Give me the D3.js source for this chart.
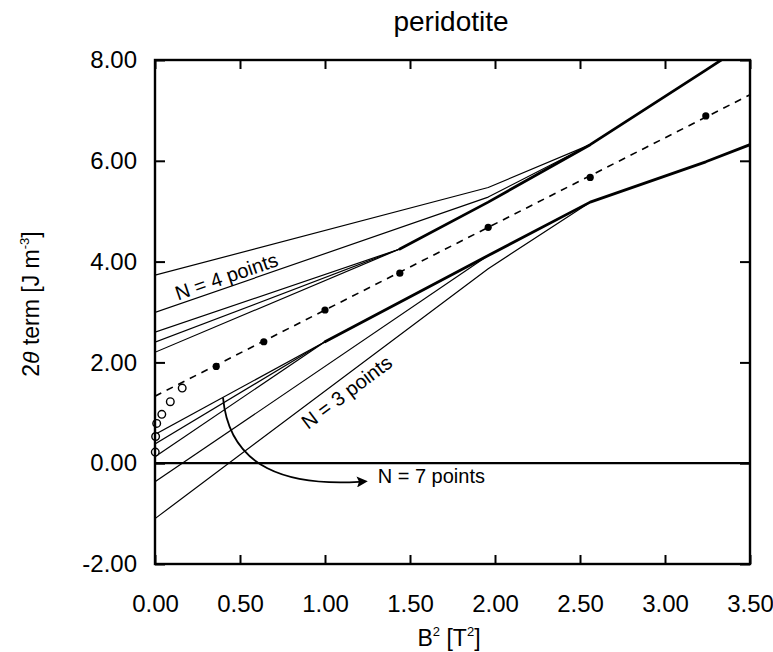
<!DOCTYPE html>
<html>
<head>
<meta charset="utf-8">
<script src="https://cdn.jsdelivr.net/npm/d3@7/dist/d3.min.js"></script>
<style>
  html, body { margin: 0; padding: 0; background: #fff; }
  svg { display: block; font-family: "Liberation Sans", Arial, Helvetica, sans-serif; }
</style>
</head>
<body>
<svg id="chart" width="773" height="652"></svg>
<script>
// ---------------- data ----------------
const chartTitle = "peridotite";
const xTicks = [0, 0.5, 1.0, 1.5, 2.0, 2.5, 3.0, 3.5];
const yTicks = [-2, 0, 2, 4, 6, 8];

// measured points (filled) : B^2 and 2θ term
const bSquared = [0.36, 0.64, 1.00, 1.44, 1.96, 2.56, 3.24];
const thetaTerm = [1.92, 2.41, 3.04, 3.77, 4.68, 5.67, 6.89];

// low-field points (open)
const bSquaredLow = [0.0016, 0.0036, 0.01, 0.04, 0.09, 0.16];
const thetaTermLow = [0.22, 0.53, 0.79, 0.97, 1.22, 1.49];

// N = 7 points fit (dashed)
const fitX = [0, 3.5];
const fitY = [1.33, 7.31];

// N = 4 points family (upper)
const upper1 = [[0, 3.73], [1.96, 5.47], [2.56, 6.32]];
const upper2 = [[0, 2.99], [1.96, 5.28], [2.56, 6.32]];
const upper3 = [[0, 2.60], [1.44, 4.25]];
const upper4 = [[0, 2.40], [1.44, 4.25]];
const upper5 = [[0, 2.20], [1.44, 4.25]];
const upperEnvelope = [[1.44, 4.25], [1.96, 5.18], [2.56, 6.32], [3.24, 7.80], [3.5, 8.37]];

// N = 3 points family (lower)
const lower1 = [[0, 0.57], [1.0, 2.41]];
const lower2 = [[0, 0.38], [1.0, 2.41]];
const lower3 = [[0, 0.13], [1.0, 2.41]];
const lower4 = [[0, -0.37], [1.96, 4.12]];
const lower5 = [[0, -1.10], [1.96, 3.86], [2.56, 5.18]];
const lowerEnvelope = [[1.0, 2.41], [1.96, 4.12], [2.56, 5.18], [3.24, 5.98], [3.5, 6.32]];

// annotations (data coordinates)
const labelTexts = ["N = 4 points", "N = 3 points", "N = 7 points"];
const labelX = [0.135, 0.90, 1.31];
const labelY = [3.23, 0.66, -0.39];
const labelAngle = [-19, -37, 0];
const arrowCurve = [[0.40, 1.30], [0.44, -0.13], [0.79, -0.45], [1.20, -0.37]];

// ---------------- layout ----------------
const svg = d3.select("#chart");
const plot = { left: 155, right: 750, top: 60, bottom: 564 };

const x = d3.scaleLinear().domain([0, 3.5]).range([plot.left, plot.right]);
const y = d3.scaleLinear().domain([-2, 8]).range([plot.bottom, plot.top]);

const defs = svg.append("defs");
defs.append("clipPath").attr("id", "clip")
  .append("rect")
  .attr("x", plot.left).attr("y", plot.top)
  .attr("width", plot.right - plot.left).attr("height", plot.bottom - plot.top);
defs.append("marker")
  .attr("id", "arrowhead")
  .attr("viewBox", "0 0 10 10")
  .attr("refX", 2).attr("refY", 5)
  .attr("markerUnits", "userSpaceOnUse")
  .attr("markerWidth", 14).attr("markerHeight", 11)
  .attr("orient", "auto")
  .append("path").attr("d", "M0,0 L10,5 L0,10 L2,5 Z").attr("fill", "#000");

const g = svg.append("g").attr("clip-path", "url(#clip)");
const line = d3.line().x(d => x(d[0])).y(d => y(d[1]));

// zero line
g.append("line")
  .attr("x1", x(0)).attr("x2", x(3.5))
  .attr("y1", y(0)).attr("y2", y(0))
  .attr("stroke", "#000").attr("stroke-width", 2.2);

// thin fit lines
[upper1, upper2, upper3, upper4, upper5, lower1, lower2, lower3, lower4, lower5].forEach(pts => {
  g.append("path").attr("d", line(pts))
    .attr("fill", "none").attr("stroke", "#000").attr("stroke-width", 1.2)
    .attr("stroke-linejoin", "round");
});
// envelopes (thick)
[upperEnvelope, lowerEnvelope].forEach(pts => {
  g.append("path").attr("d", line(pts))
    .attr("fill", "none").attr("stroke", "#000").attr("stroke-width", 2.8)
    .attr("stroke-linejoin", "round").attr("stroke-linecap", "round");
});

// dashed N = 7 fit
g.append("path")
  .attr("d", line(fitX.map((v, i) => [v, fitY[i]])))
  .attr("fill", "none").attr("stroke", "#000").attr("stroke-width", 1.6)
  .attr("stroke-dasharray", "7,6");

// filled points
g.selectAll("circle.filled").data(bSquared).join("circle")
  .attr("class", "filled")
  .attr("cx", d => x(d)).attr("cy", (d, i) => y(thetaTerm[i]))
  .attr("r", 3.6).attr("fill", "#000");

// open points
svg.selectAll("circle.open").data(bSquaredLow).join("circle")
  .attr("class", "open")
  .attr("cx", d => x(d)).attr("cy", (d, i) => y(thetaTermLow[i]))
  .attr("r", 3.8).attr("fill", "#fff").attr("stroke", "#000").attr("stroke-width", 1.4);

// arrow
const ap = d3.path();
ap.moveTo(x(arrowCurve[0][0]), y(arrowCurve[0][1]));
ap.bezierCurveTo(x(arrowCurve[1][0]), y(arrowCurve[1][1]),
                 x(arrowCurve[2][0]), y(arrowCurve[2][1]),
                 x(arrowCurve[3][0]), y(arrowCurve[3][1]));
svg.append("path").attr("d", ap.toString())
  .attr("fill", "none").attr("stroke", "#000").attr("stroke-width", 1.8)
  .attr("marker-end", "url(#arrowhead)");

// labels
labelTexts.forEach((t, i) => {
  svg.append("text")
    .attr("transform", `translate(${x(labelX[i])},${y(labelY[i])}) rotate(${labelAngle[i]})`)
    .attr("font-size", 20).attr("fill", "#000")
    .text(t);
});

// ---------------- axes ----------------
const fmt = v => d3.format(".2f")(v).replace("\u2212", "-");
const axisStyle = sel => {
  sel.select(".domain").remove();
  sel.selectAll(".tick line").attr("stroke", "#000").attr("stroke-width", 2);
  sel.selectAll(".tick text").attr("font-size", 24).attr("fill", "#000")
    .attr("font-family", "'Liberation Sans', Arial, Helvetica, sans-serif");
};

svg.append("g").attr("transform", `translate(0,${plot.bottom})`)
  .call(d3.axisBottom(x).tickValues(xTicks).tickFormat(fmt).tickSizeInner(-9).tickSizeOuter(0).tickPadding(31))
  .call(axisStyle);
svg.append("g").attr("transform", `translate(0,${plot.top})`)
  .call(d3.axisTop(x).tickValues(xTicks).tickFormat("").tickSizeInner(-9).tickSizeOuter(0))
  .call(axisStyle);
svg.append("g").attr("transform", `translate(${plot.left},0)`)
  .call(d3.axisLeft(y).tickValues(yTicks).tickFormat(fmt).tickSizeInner(-10).tickSizeOuter(0).tickPadding(18))
  .call(axisStyle);
svg.append("g").attr("transform", `translate(${plot.right},0)`)
  .call(d3.axisRight(y).tickValues(yTicks).tickFormat("").tickSizeInner(-10).tickSizeOuter(0))
  .call(axisStyle);

// frame
svg.append("rect")
  .attr("x", plot.left).attr("y", plot.top)
  .attr("width", plot.right - plot.left).attr("height", plot.bottom - plot.top)
  .attr("fill", "none").attr("stroke", "#000").attr("stroke-width", 2.4);

// title
svg.append("text")
  .attr("x", 451).attr("y", 31)
  .attr("text-anchor", "middle").attr("font-size", 28).attr("fill", "#000")
  .text(chartTitle);

// x axis title: B² [T²]
const xt = svg.append("text")
  .attr("x", 449).attr("y", 646)
  .attr("text-anchor", "middle").attr("font-size", 23).attr("fill", "#000");
xt.append("tspan").text("B");
xt.append("tspan").attr("font-size", 13).attr("dy", -10).text("2");
xt.append("tspan").attr("dy", 10).text(" [T");
xt.append("tspan").attr("font-size", 13).attr("dy", -10).text("2");
xt.append("tspan").attr("dy", 10).text("]");

// y axis title: 2θ term [J m⁻³]
const yt = svg.append("text")
  .attr("transform", `translate(39,${(plot.top + plot.bottom) / 2 - 8}) rotate(-90)`)
  .attr("text-anchor", "middle").attr("font-size", 23).attr("fill", "#000");
yt.append("tspan").text("2");
yt.append("tspan").attr("font-style", "italic").text("θ");
yt.append("tspan").text(" term [J m");
yt.append("tspan").attr("font-size", 13).attr("dy", -10).text("-3");
yt.append("tspan").attr("dy", 10).text("]");
</script>
</body>
</html>
